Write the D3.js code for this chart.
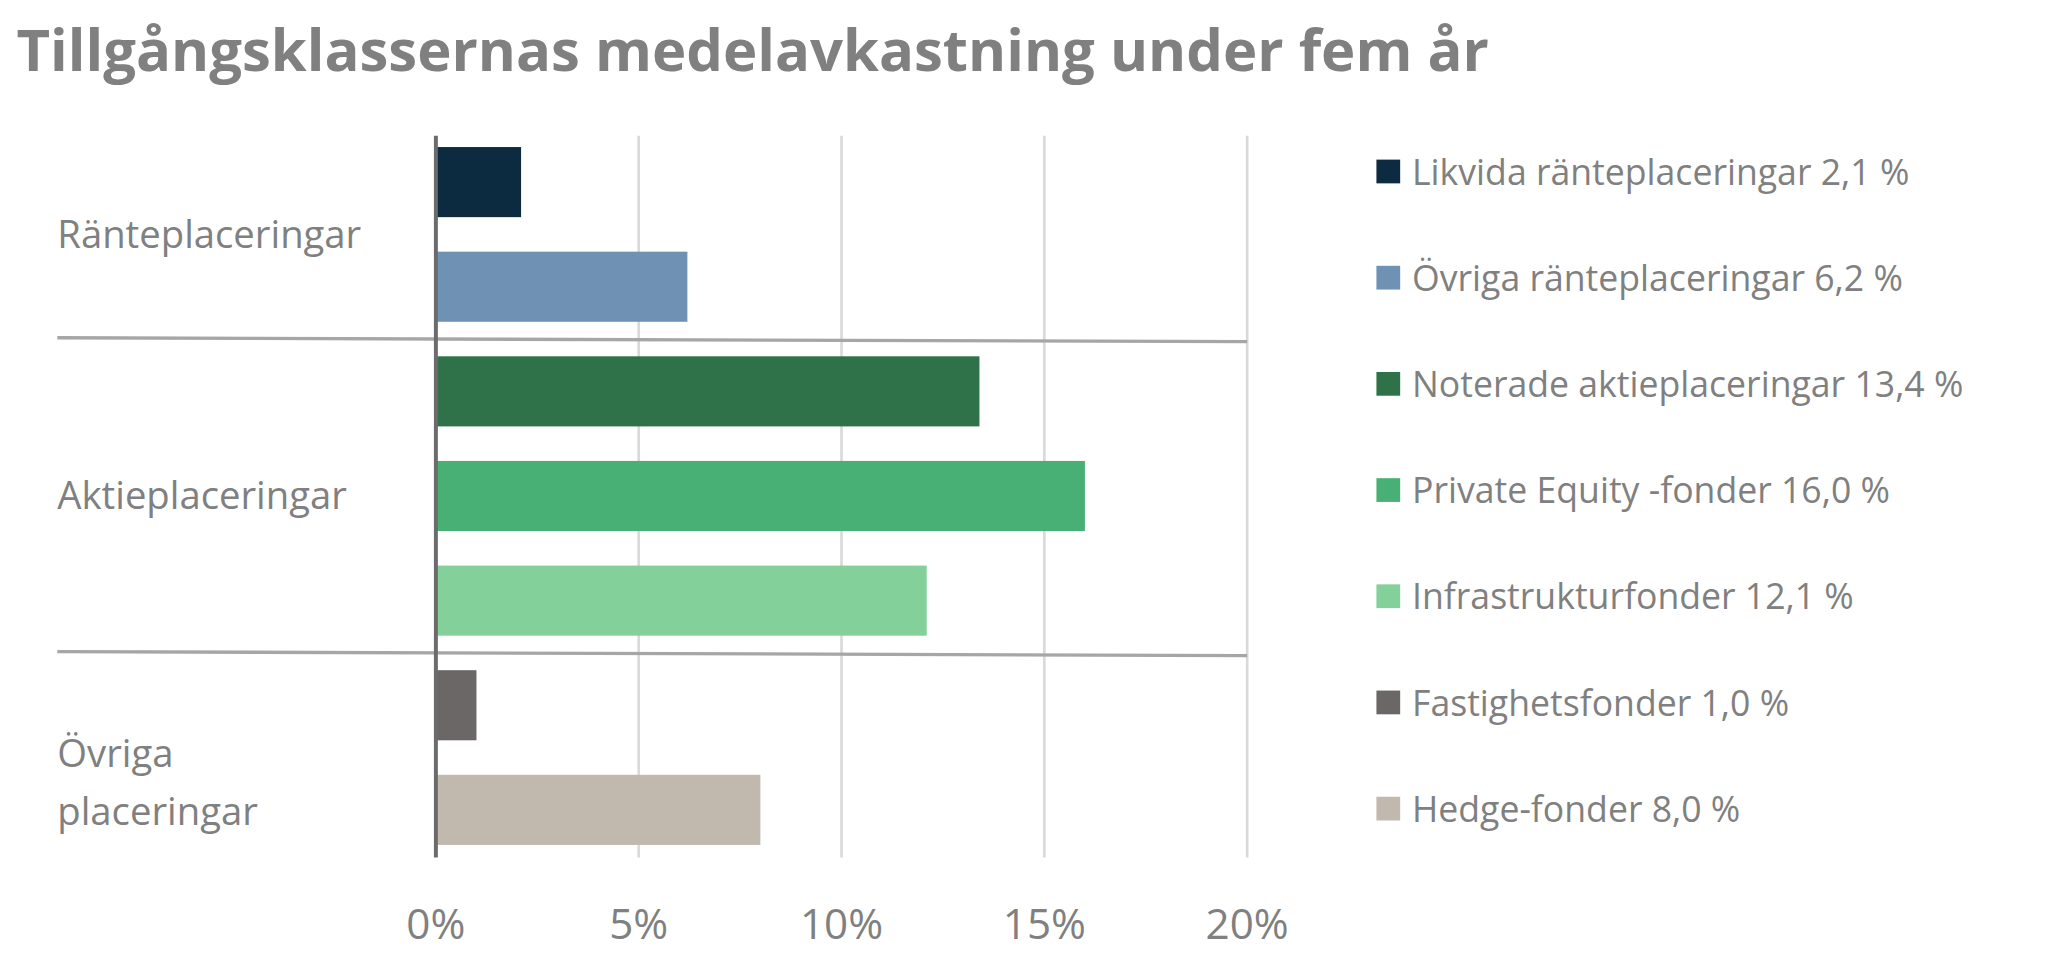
<!DOCTYPE html>
<html>
<head>
<meta charset="utf-8">
<script src="https://cdn.jsdelivr.net/npm/d3@7"></script>
<style>
  body { margin: 0; background: #fff; }
  text { font-family: "Open Sans", "DejaVu Sans", sans-serif; fill: #808080; }
</style>
</head>
<body>
<svg id="chart" width="2059" height="959" viewBox="0 0 1560 727"></svg>
<script>
// data
var seriesNames = ["Likvida ränteplaceringar", "Övriga ränteplaceringar", "Noterade aktieplaceringar",
    "Private Equity -fonder", "Infrastrukturfonder", "Fastighetsfonder", "Hedge-fonder"];
var seriesValues = [2.1, 6.2, 13.4, 16.0, 12.1, 1.0, 8.0];
var seriesColors = ["#0d2b40", "#6f91b4", "#2f7249", "#49b075", "#83d09a", "#6b6766", "#c2b9ae"];
var groups = [["Ränteplaceringar"], ["Aktieplaceringar"], ["Övriga", "placeringar"]];
var groupIndex = [0, 0, 1, 1, 1, 2, 2];
var xTicks = [0, 5, 10, 15, 20];

var svg = d3.select("#chart");

svg.append("text").attr("x", 12).attr("y", 54)
    .style("font-size", "44px").style("font-weight", "bold")
    .text("Tillgångsklassernas medelavkastning under fem år");

var x = d3.scaleLinear().domain([0, 20]).range([330, 945]);
var y = d3.scaleBand().domain(d3.range(seriesNames.length)).range([98, 654]).paddingInner(0.33).paddingOuter(0.17);

// gridlines
svg.selectAll("line.grid").data(xTicks.slice(1)).enter().append("line")
    .attr("x1", d => x(d)).attr("x2", d => x(d)).attr("y1", 103).attr("y2", 650)
    .attr("stroke", "#d9d9d9").attr("stroke-width", 2);

// bars
svg.selectAll("rect.bar").data(seriesValues).enter().append("rect")
    .attr("x", x(0)).attr("y", (d, i) => y(i))
    .attr("width", d => x(d) - x(0)).attr("height", y.bandwidth())
    .attr("fill", (d, i) => seriesColors[i]);

// group separators
var step = y.step();
[2, 5].forEach(function (i) {
    var yy = y(i) - (step - y.bandwidth()) / 2;
    svg.append("line").attr("x1", 43).attr("x2", 945).attr("y1", yy - 1).attr("y2", yy + 2)
        .attr("stroke", "#a6a6a6").attr("stroke-width", 2.5);
});

// axis line
svg.append("line").attr("x1", x(0)).attr("x2", x(0)).attr("y1", 103).attr("y2", 650)
    .attr("stroke", "#6b6b6b").attr("stroke-width", 3);

// tick labels
svg.selectAll("text.tick").data(xTicks).enter().append("text")
    .attr("x", d => x(d)).attr("y", 712).attr("text-anchor", "middle")
    .style("font-size", "32px").text(d => d + "%");

// group labels
groups.forEach(function (lines, g) {
    var idx = d3.range(groupIndex.length).filter(i => groupIndex[i] === g);
    var mid = (y(idx[0]) + y(idx[idx.length - 1]) + y.bandwidth()) / 2;
    var t = svg.append("text").attr("x", 43).style("font-size", "29px");
    if (lines.length === 1) {
        t.attr("y", mid + 10).text(lines[0]);
    } else {
        t.attr("y", mid + 7);
        lines.forEach(function (l, k) {
            t.append("tspan").attr("x", 43).attr("dy", k === 0 ? 0 : 44).text(l);
        });
    }
});

// legend
var fmt = d3.format(".1f");
var leg = svg.selectAll("g.leg").data(seriesNames).enter().append("g")
    .attr("transform", (d, i) => "translate(1043," + (130 + i * 80.5) + ")");
leg.append("rect").attr("x", 0).attr("y", -9).attr("width", 18).attr("height", 18)
    .attr("fill", (d, i) => seriesColors[i]);
leg.append("text").attr("x", 27).attr("y", 10).style("font-size", "27px")
    .text((d, i) => d + " " + fmt(seriesValues[i]).replace(".", ",") + " %");
</script>
</body>
</html>
